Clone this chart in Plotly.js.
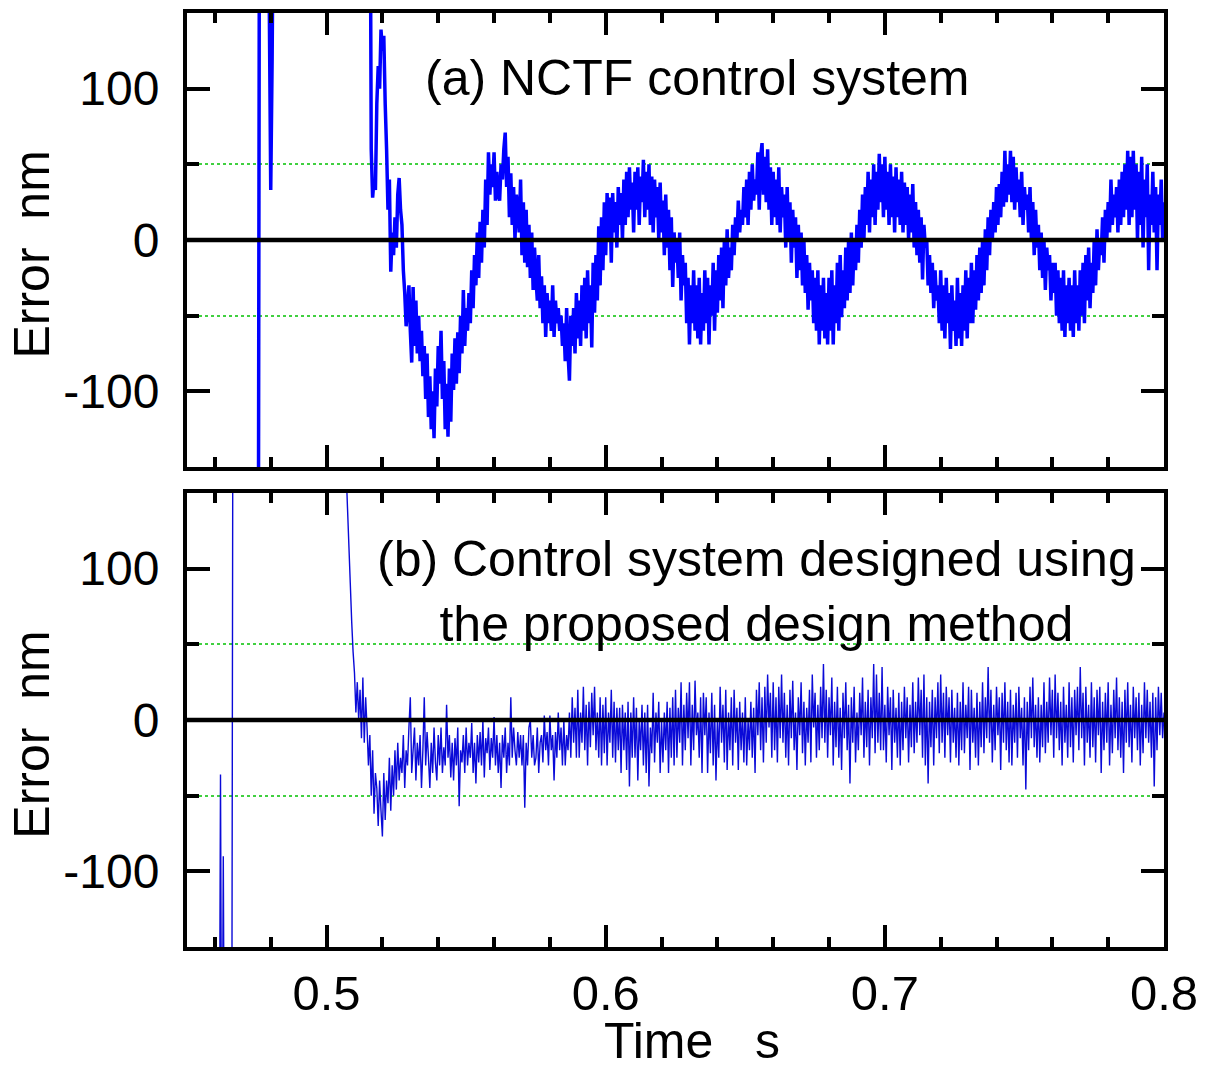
<!DOCTYPE html>
<html>
<head>
<meta charset="utf-8">
<script src="https://cdn.plot.ly/plotly-3.0.1.min.js"></script>
<style>html,body{margin:0;padding:0;background:#fff;}#chart{width:1206px;height:1071px;}</style>
</head>
<body>
<div id="chart"></div>
<script>
// ---- data ----
// sample grid step (s)
const sampleStep = 0.0005;
// (a) NCTF control system: samples from topStart
const topStart = 0.470;
const topError = [
  -300,-300,-300,-300,-300,-300,-300,-300,-300,-300,
  -300,-300,300,300,300,300,300,300,280,150,
  33,120,250,300,300,300,300,300,300,300,
  300,300,300,300,300,300,300,300,300,300,
  300,300,300,300,300,300,300,300,300,300,
  300,300,300,300,300,300,300,300,300,300,
  300,300,300,300,300,300,300,300,300,300,
  300,300,300,300,300,300,300,300,300,300,
  300,300,300,300,300,300,300,300,300,300,
  300,300,
  60,28,40,33,90,115,100,139,125,135,
  90,60,20,40,-21,5,-10,15,-5,30,
  41,20,10,-20,-35,-57,-45,-30,-60,-81,
  -31,-70,-40,-75,-50,-80,-60,-90,-70,-105,
  -75,-117,-90,-125,-100,-131,-85,-110,-70,-95,
  -60,-105,-80,-125,-95,-130,-85,-120,-75,-99,
  -65,-95,-61,-88,-50,-75,-33,-70,-45,-60,
  -35,-55,-20,-45,-10,-30,5,-25,12,-15,
  20,-5,40,10,58,30,50,35,58,26,
  45,30,26,50,40,60,71,35,55,15,
  44,10,35,0,30,20,5,40,-10,25,
  -15,20,-18,10,-25,5,-33,-5,-25,-40,
  -10,-45,-24,-55,-30,-64,-35,-55,-40,-60,
  -30,-64,-40,-55,-45,-60,-50,-70,-55,-80,
  -45,-75,-93,-50,-70,-45,-75,-35,-65,-40,
  -70,-30,-60,-25,-65,-20,-55,-30,-71,-15,
  -48,-10,-40,9,-30,15,-20,25,-10,31,
  0,28,-15,31,5,25,-5,35,10,31,
  0,40,10,45,15,48,20,38,5,45,
  20,48,10,42,25,53,15,45,20,50,
  10,42,5,40,15,35,0,38,5,26,
  -10,30,-5,20,-20,15,-31,5,-15,0,
  -25,5,-40,-10,-30,-15,-55,-25,-69,-30,
  -55,-20,-60,-30,-65,-25,-69,-35,-60,-20,
  -55,-25,-69,-30,-50,-15,-60,-20,-48,-10,
  -40,-5,-45,0,-30,7,-25,-5,-20,10,
  -10,15,0,26,5,20,10,35,15,40,
  10,45,20,50,26,40,30,58,20,55,
  64,30,55,25,60,20,48,10,45,15,
  40,10,48,5,35,15,30,-5,35,0,
  25,-15,20,-5,15,-25,10,-20,5,-30,
  0,-35,-10,-46,-15,-40,-20,-55,-25,-60,
  -20,-69,-30,-60,-25,-65,-35,-69,-25,-60,
  -20,-69,-30,-55,-15,-60,-10,-51,-20,-45,
  -5,-40,0,-35,5,-30,0,-20,10,-15,
  20,-5,30,0,35,10,45,5,40,15,
  50,10,45,20,57,25,50,15,55,20,
  45,10,50,15,42,5,48,15,40,10,
  45,5,38,10,35,0,30,5,37,-5,
  25,-10,20,-15,15,-26,10,-5,0,-30,
  -10,-35,-15,-45,-20,-40,-30,-55,-20,-60,
  -30,-65,-25,-55,-35,-72,-30,-60,-40,-70,
  -25,-65,-35,-70,-30,-60,-20,-65,-25,-55,
  -15,-55,-20,-46,-10,-40,-5,-35,0,-30,
  7,-20,15,-10,20,0,25,5,35,10,
  37,15,45,22,59,25,50,30,59,25,
  55,20,48,25,40,15,45,10,35,20,
  30,5,35,0,25,-10,20,-5,10,-20,
  5,-25,0,-33,-5,-20,-10,-40,-15,-35,
  -15,-50,-20,-55,-25,-60,-20,-64,-30,-55,
  -25,-60,-30,-64,-20,-55,-30,-60,-20,-50,
  -15,-55,-10,-40,-5,-45,-15,-35,0,-30,
  7,-20,0,-10,15,-15,20,0,25,5,
  40,10,30,15,35,5,40,10,45,15,
  50,20,59,10,55,15,59,20,50,0,
  45,10,55,-5,40,15,50,-20,30,10,
  45,5,35,-20,30,10,40,0,25
];
// (b) proposed design method: samples from botStart
const botStart = 0.455;
const botError = [
  -300,-300,-300,-300,-300,-300,-300,-300,-300,-300,
  -300,-300,-300,-300,-36,-300,-90,-300,-300,-300,
  -300,-300,-300,300,300,300,300,300,300,300,
  300,300,300,300,300,300,300,300,300,300,
  300,300,300,300,300,300,300,300,300,300,
  300,300,300,300,300,300,300,300,300,300,
  300,300,300,300,300,300,300,300,300,300,
  300,300,300,300,300,300,300,300,300,300,
  300,300,300,300,300,300,300,300,300,300,
  300,300,300,300,300,300,300,300,300,300,
  300,300,300,300,165,140,115,90,65,45,
  31,5,25,0,20,-12,28,-15,15,-5,
  -30,-10,-50,-20,-62,-35,-45,-70,-40,-60,
  -77,-35,-66,-40,-55,-25,-60,-30,-50,-20,
  -46,-15,-40,-25,-35,-10,-45,-20,-30,-5,
  15,-35,-20,-5,-40,-15,-30,-10,-45,-20,
  15,-30,-8,-25,-45,-15,-35,-5,-28,-40,
  -10,-30,-5,-35,-18,-30,10,-25,-10,-38,
  -15,-40,-12,-30,-5,-57,-20,-28,-10,-35,
  -5,-30,-15,-25,-2,-35,-15,-42,-10,-28,
  -8,-30,0,-38,-12,-22,-5,-33,-12,-25,
  2,-30,-10,-35,-15,-45,-10,-25,-5,-35,
  -15,-30,15,-25,-5,-20,-30,-8,-25,-10,
  -30,-10,-58,-15,-30,-5,0,-25,-10,-30,
  -25,-5,-35,-15,-10,-28,3,-20,-8,-30,
  3,-20,-10,-40,-8,-25,5,-20,-5,-30,
  0,-30,-10,-20,5,-25,15,-15,8,-25,
  20,-25,5,-15,22,-20,10,-30,12,-18,
  18,-10,22,-20,5,-25,15,-30,10,-22,
  15,-30,5,-15,20,-25,12,-28,8,-20,
  8,-35,10,-20,5,-33,12,-44,5,-25,
  15,-25,8,-40,0,-20,10,-30,5,-35,
  10,-44,-5,-22,18,-28,5,-15,12,-35,
  0,-28,5,-20,12,-35,8,-25,15,-30,
  20,-25,8,-15,25,-30,10,-20,18,-12,
  25,-30,10,-20,26,-10,5,-25,15,-35,
  18,-10,15,-35,5,-22,18,-30,10,-40,
  0,-25,22,-15,10,-28,20,-33,5,-20,
  15,-30,20,-15,8,-33,12,-20,5,-28,
  15,-30,0,-20,12,-25,8,-35,20,-10,
  25,-20,15,-28,22,-15,30,-5,18,-25,
  25,-20,15,-28,22,-12,30,-15,18,-25,
  10,-30,20,-12,26,-20,5,-33,15,-10,
  25,-22,12,-30,8,-15,20,-28,30,-5,
  18,-25,10,-20,22,-12,37,-15,20,-25,
  15,-10,28,-30,12,-18,22,-25,8,-33,
  18,-12,25,-20,10,-42,15,-15,22,-28,
  5,-20,18,-10,28,-25,12,-18,20,-30,
  15,-12,37,-22,30,-15,18,-20,35,-20,
  10,-28,22,-10,15,-33,20,-15,8,-25,
  18,-30,12,-20,22,-12,15,-28,10,-18,
  25,-22,12,-15,28,-10,20,-25,30,-30,
  15,-42,12,-18,20,-30,15,-12,25,-22,
  30,-15,18,-25,22,-10,15,-28,20,-15,
  8,-25,18,-30,12,-20,25,-22,10,-12,
  22,-33,20,-15,8,-25,18,-30,12,-18,
  25,-22,15,-12,35,-15,20,-28,10,-20,
  22,-10,15,-33,18,-15,25,-20,12,-28,
  20,-30,10,-15,18,-25,22,-12,8,-30,
  15,-46,12,-20,22,-12,28,-18,10,-25,
  15,-28,10,-18,25,-22,12,-15,28,-10,
  20,-25,30,-12,18,-20,12,-30,22,-15,
  10,-25,25,-18,15,-28,20,-10,22,-20,
  35,-12,18,-30,22,-15,10,-25,25,-18,
  15,-28,20,-10,22,-35,12,-20,18,-15,
  25,-30,10,-22,20,-12,28,-20,15,-25,
  12,-35,20,-15,25,-18,10,-28,22,-12,
  15,-20,18,-30,10,-22,25,-12,20,-15,
  12,-25,18,-44,15,-20,22,-10,18,-12,
  5
];
const xTickVals = [0.5, 0.6, 0.7, 0.8];
const xTickText = ['0.5', '0.6', '0.7', '0.8'];
const yTickVals = [-100, 0, 100];
const yTickText = ['-100', '0', '100'];
const yGuideVals = [-50, 50];
const panelLabelA = '(a) NCTF control system';
const panelLabelB = '(b) Control system designed using<br>the proposed design method';
const xTitle = 'Time\u00A0\u00A0\u00A0s';
const yTitle = 'Error\u00A0\u00A0nm';

// ---- build ----
function times(start, n) {
  const t = [];
  for (let i = 0; i < n; i++) t.push(+(start + i * sampleStep).toFixed(5));
  return t;
}
const FONT = 'Liberation Sans, Arial, Helvetica, sans-serif';

const traces = [
  {x: times(topStart, topError.length), y: topError, xaxis: 'x2', yaxis: 'y2',
   type: 'scatter', mode: 'lines', line: {color: '#0000ff', width: 3.5, simplify: false}, hoverinfo: 'skip'},
  {x: times(botStart, botError.length), y: botError, xaxis: 'x', yaxis: 'y',
   type: 'scatter', mode: 'lines', line: {color: '#0a0ad8', width: 1.4, simplify: false}, hoverinfo: 'skip'}
];

function xAxis(showLabels, anchor) {
  return {
    anchor: anchor, domain: [0, 1], range: [0.45, 0.8],
    tickmode: 'array', tickvals: xTickVals, ticktext: xTickText,
    showticklabels: showLabels, ticks: 'inside', ticklen: 22, tickwidth: 4, tickcolor: '#000',
    minor: {tickmode: 'linear', tick0: 0.46, dtick: 0.02, ticks: 'inside', ticklen: 10, tickwidth: 4, tickcolor: '#000', showgrid: false},
    showline: true, linewidth: 4, linecolor: '#000', mirror: 'ticks',
    showgrid: false, zeroline: false, ticklabelstandoff: 0,
    tickfont: {family: FONT, size: 49, color: '#000'}
  };
}
function yAxis(domain, anchor) {
  return {
    anchor: anchor, domain: domain, range: [-150, 150],
    tickmode: 'array', tickvals: yTickVals, ticktext: yTickText,
    ticks: 'inside', ticklen: 23, tickwidth: 4, tickcolor: '#000',
    minor: {tickmode: 'array', tickvals: yGuideVals, ticks: 'inside', ticklen: 12, tickwidth: 4, tickcolor: '#000',
            showgrid: true, gridcolor: '#40d040', griddash: 'dot', gridwidth: 2},
    showline: true, linewidth: 4, linecolor: '#000', mirror: 'ticks',
    showgrid: false, zeroline: false, ticklabelstandoff: 14,
    tickfont: {family: FONT, size: 48, color: '#000'}
  };
}

const layout = {
  width: 1206, height: 1071,
  margin: {l: 187, r: 42, t: 13, b: 124},
  paper_bgcolor: '#fff', plot_bgcolor: '#fff',
  showlegend: false,
  font: {family: FONT, color: '#000'},
  xaxis: xAxis(true, 'y'),
  xaxis2: xAxis(false, 'y2'),
  yaxis: yAxis([0, 0.4861], 'x'),
  yaxis2: yAxis([0.5139, 1], 'x2'),
  shapes: [
    {type: 'line', xref: 'x domain', yref: 'y', x0: 0, x1: 1, y0: 0, y1: 0, layer: 'above', line: {color: '#000', width: 4.5}},
    {type: 'line', xref: 'x2 domain', yref: 'y2', x0: 0, x1: 1, y0: 0, y1: 0, layer: 'above', line: {color: '#000', width: 4.5}}
  ],
  annotations: [
    {text: panelLabelA, xref: 'paper', yref: 'paper', x: 0.523, y: 0.930, xanchor: 'center', yanchor: 'middle', showarrow: false, font: {family: FONT, size: 50, color: '#000'}},
    {text: panelLabelB, xref: 'paper', yref: 'paper', x: 0.583, y: 0.381, xanchor: 'center', yanchor: 'middle', showarrow: false, font: {family: FONT, size: 50, color: '#000'}},
    {text: xTitle, xref: 'paper', yref: 'paper', x: 0.517, y: -0.1328, xanchor: 'center', yanchor: 'bottom', showarrow: false, font: {family: FONT, size: 50, color: '#000'}},
    {text: yTitle, xref: 'paper', yref: 'paper', x: -0.159, y: 0.741, xanchor: 'center', yanchor: 'middle', textangle: -90, showarrow: false, font: {family: FONT, size: 50, color: '#000'}},
    {text: yTitle, xref: 'paper', yref: 'paper', x: -0.159, y: 0.227, xanchor: 'center', yanchor: 'middle', textangle: -90, showarrow: false, font: {family: FONT, size: 50, color: '#000'}}
  ]
};

Plotly.newPlot('chart', traces, layout, {staticPlot: true, displayModeBar: false});
</script>
</body>
</html>
